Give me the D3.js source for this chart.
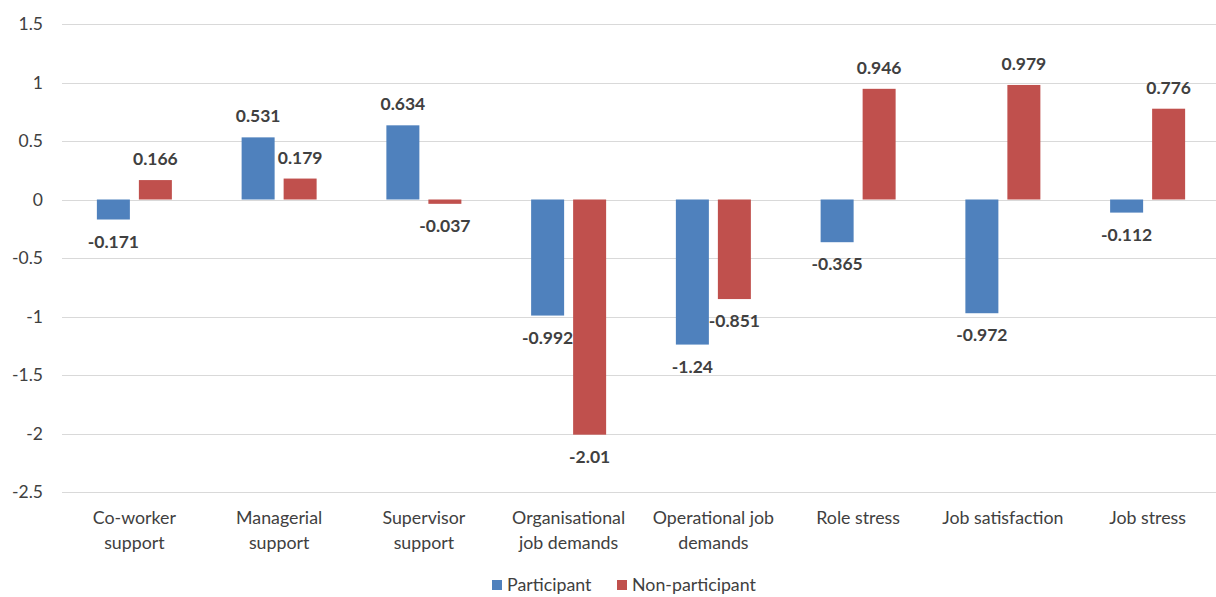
<!DOCTYPE html>
<html>
<head>
<meta charset="utf-8">
<script src="https://cdn.jsdelivr.net/npm/d3@7"></script>
<style>
  body { margin: 0; background: #fff; }
  text { font-family: Lato, "Open Sans", sans-serif; }
</style>
</head>
<body>
<script>
// data
let categories = ["Co-worker support", "Managerial support", "Supervisor support",
  "Organisational job demands", "Operational job demands", "Role stress",
  "Job satisfaction", "Job stress"];
let catLines = [["Co-worker", "support"], ["Managerial", "support"], ["Supervisor", "support"],
  ["Organisational", "job demands"], ["Operational job", "demands"], ["Role stress"],
  ["Job satisfaction"], ["Job stress"]];
let participant = [-0.171, 0.531, 0.634, -0.992, -1.24, -0.365, -0.972, -0.112];
let nonParticipant = [0.166, 0.179, -0.037, -2.01, -0.851, 0.946, 0.979, 0.776];
let seriesNames = ["Participant", "Non-participant"];
let colors = ["#4F81BD", "#C0504D"];
let yTicks = [1.5, 1, 0.5, 0, -0.5, -1, -1.5, -2, -2.5];

let W = 1216, H = 597;
let svg = d3.select('body').append('svg')
  .attr('width', W).attr('height', H);

let x = d3.scaleBand().domain(categories).range([62, 1220]);
let y = d3.scaleLinear().domain([-2.5, 1.5]).range([492, 24]);
let barW = 33, gap = 9;
let offset = (x.bandwidth() - 2 * barW - gap) / 2;
let barX = (i, s) => x(categories[i]) + offset + s * (barW + gap);

// gridlines
svg.append('g').selectAll('line').data(yTicks).enter().append('line')
  .attr('x1', 62).attr('x2', W)
  .attr('y1', d => Math.round(y(d)) + 0.5).attr('y2', d => Math.round(y(d)) + 0.5)
  .style('stroke', '#d9d9d9').style('stroke-width', 1);

// y axis labels
let yAxis = d3.axisLeft(y).tickValues(yTicks).tickSize(0).tickPadding(0).tickFormat(d => d);
let gy = svg.append('g').attr('transform', 'translate(43,0)').call(yAxis);
gy.select('.domain').remove();
gy.selectAll('text').style('font-size', '17.5px').style('fill', '#404040')
  .style('font-family', 'Lato, sans-serif');

let series = [participant, nonParticipant];
series.forEach((vals, s) => {
  let g = svg.append('g');
  g.selectAll('rect').data(vals).enter().append('rect')
    .attr('x', (d, i) => barX(i, s))
    .attr('width', barW)
    .attr('y', d => y(Math.max(0, d)))
    .attr('height', d => Math.abs(y(d) - y(0)))
    .style('fill', colors[s]);

  g.selectAll('text').data(vals).enter().append('text')
    .attr('x', (d, i) => barX(i, s) + barW / 2)
    .attr('y', d => d >= 0 ? y(d) - 21 : y(d) + 22)
    .attr('dy', '0.35em')
    .attr('text-anchor', 'middle')
    .style('font-size', '17.5px').style('font-weight', 'bold').style('fill', '#404040')
    .text(d => d);
});

// category labels
let gx = svg.append('g');
catLines.forEach((lines, i) => {
  let cx = x(categories[i]) + x.bandwidth() / 2;
  let t = gx.append('text')
    .attr('x', cx)
    .attr('y', 524)
    .attr('text-anchor', 'middle')
    .style('font-size', '17.8px').style('fill', '#404040');
  lines.forEach((l, k) => {
    t.append('tspan').attr('x', cx)
      .attr('dy', k === 0 ? 0 : 25).text(l);
  });
});

// legend
let legendX = [492, 617];
seriesNames.forEach((n, s) => {
  svg.append('rect').attr('x', legendX[s]).attr('y', 580).attr('width', 10).attr('height', 10)
    .style('fill', colors[s]);
  svg.append('text').attr('x', legendX[s] + 15).attr('y', 591)
    .style('font-size', '17.8px').style('fill', '#404040').text(n);
});
</script>
</body>
</html>
